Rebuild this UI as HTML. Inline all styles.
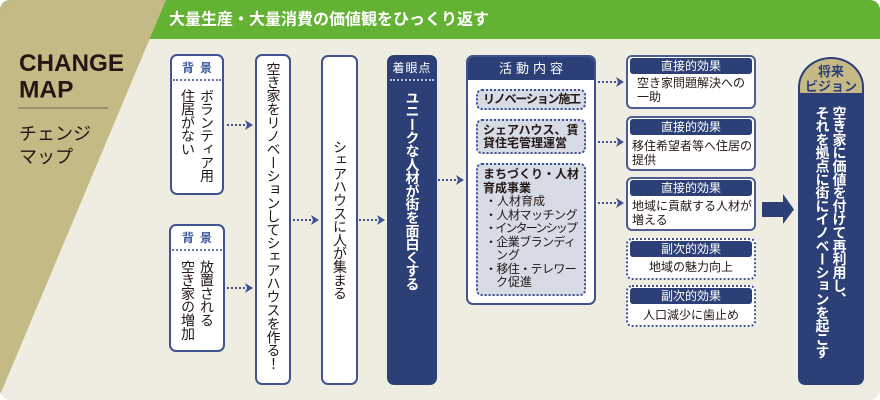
<!DOCTYPE html>
<html><head><meta charset="utf-8">
<style>
*{margin:0;padding:0;}
body{width:880px;height:400px;position:relative;overflow:hidden;background:#fff;font-family:"Liberation Sans","Noto Sans CJK JP",sans-serif;color:#231815;}
.a{position:absolute;box-sizing:border-box;}
.wb{background:#fff;border:2px solid #3E5390;border-radius:7px;}
.nv{background:#2C4077;border-radius:7px;}
.v{position:absolute;writing-mode:vertical-rl;white-space:nowrap;font-size:14px;letter-spacing:-0.7px;}
.hd{position:absolute;text-align:center;font-size:12px;font-weight:bold;color:#3B5A9A;letter-spacing:6px;line-height:16px;}
.dl{position:absolute;height:0;border-top:2px dotted #6677A8;}
.p{position:absolute;box-sizing:border-box;left:476px;width:110px;border:2px dotted #3E5390;background:#D6DBE6;border-radius:6px;font-size:12px;}
.e{position:absolute;box-sizing:border-box;left:626px;width:130px;background:#fff;border:2px solid #4B5D93;border-radius:6px;}
.ed{border:2px dotted #3E5390;}
.eh{position:absolute;left:630px;width:122px;height:16px;background:#2C4077;border-radius:3px;color:#fff;font-size:12px;text-align:center;line-height:16px;}
.et{position:absolute;font-size:12px;line-height:14px;white-space:nowrap;}
</style></head><body>
<svg class="a" style="left:0;top:0" width="880" height="400">
<defs><clipPath id="c"><rect width="880" height="400" rx="10"/></clipPath></defs>
<g clip-path="url(#c)">
<rect width="880" height="400" fill="#EFEDE2"/>
<rect x="0" y="0" width="880" height="39" fill="#64B234"/>
<polygon points="0,0 166,0 0,395" fill="#C4BA85"/>
</g>
<text x="169" y="20" dominant-baseline="central" font-size="16" font-weight="bold" fill="#fff" font-family="Liberation Sans, Noto Sans CJK JP, sans-serif">大量生産・大量消費の価値観をひっくり返す</text>
<text x="19" y="71" font-size="24.5" font-weight="bold" fill="#231815" font-family="Liberation Sans, sans-serif" textLength="105" lengthAdjust="spacingAndGlyphs">CHANGE</text>
<text x="19" y="97.5" font-size="24.5" font-weight="bold" fill="#231815" font-family="Liberation Sans, sans-serif">MAP</text>
<line x1="18" y1="108" x2="108" y2="108" stroke="#8B8565" stroke-width="1.5"/>
<text x="19" y="134" dominant-baseline="central" font-size="18" fill="#231815" font-family="Liberation Sans, Noto Sans CJK JP, sans-serif">チェンジ</text>
<text x="19" y="157" dominant-baseline="central" font-size="18" fill="#231815" font-family="Liberation Sans, Noto Sans CJK JP, sans-serif">マップ</text>
<g stroke="#3E5390" stroke-width="2" stroke-dasharray="2 2" fill="none">
<line x1="227" y1="125" x2="247" y2="125"/>
<line x1="227" y1="288" x2="247" y2="288"/>
<line x1="293" y1="220" x2="313" y2="220"/>
<line x1="359" y1="220" x2="379" y2="220"/>
<line x1="438" y1="180" x2="458" y2="180"/>
<line x1="598" y1="82" x2="618" y2="82"/>
<line x1="598" y1="142" x2="618" y2="142"/>
<line x1="598" y1="203" x2="618" y2="203"/>
</g>
<g fill="#3E5390">
<polygon points="245,120 253,125 245,130 247,125"/>
<polygon points="245,283 253,288 245,293 247,288"/>
<polygon points="311,215 319,220 311,225 313,220"/>
<polygon points="377,215 385,220 377,225 379,220"/>
<polygon points="456,175 464,180 456,185 458,180"/>
<polygon points="616,77 624,82 616,87 618,82"/>
<polygon points="616,137 624,142 616,147 618,142"/>
<polygon points="616,198 624,203 616,208 618,203"/>
</g>
<polygon points="762,202 783,202 783,194 794,209.5 783,224 783,217 762,217" fill="#2C4077"/>
</svg>

<!-- background box 1 -->
<div class="a wb" style="left:170px;top:54px;width:54px;height:141px;"></div>
<div class="hd" style="left:170px;top:60px;width:54px;padding-left:6px;box-sizing:border-box;">背景</div>
<div class="dl" style="left:173px;top:79px;width:48px;"></div>
<div class="v" style="left:178px;top:89px;width:38px;line-height:19px;">ボランティア用<br>住居がない</div>

<!-- background box 2 -->
<div class="a wb" style="left:169px;top:224px;width:56px;height:128px;"></div>
<div class="hd" style="left:169px;top:230px;width:56px;padding-left:6px;box-sizing:border-box;">背景</div>
<div class="dl" style="left:172px;top:249px;width:50px;"></div>
<div class="v" style="left:178px;top:260px;width:38px;line-height:19px;">放置される<br>空き家の増加</div>

<!-- column 3 -->
<div class="a wb" style="left:255px;top:54px;width:36px;height:331px;"></div>
<div class="v" style="left:263.5px;top:62px;width:19px;line-height:19px;letter-spacing:-0.6px;">空き家をリノベーションしてシェアハウスを作る！</div>

<!-- column 4 -->
<div class="a wb" style="left:321px;top:55px;width:37px;height:330px;"></div>
<div class="v" style="left:330px;top:140px;width:19px;line-height:19px;">シェアハウスに人が集まる</div>

<!-- column 5 -->
<div class="a nv" style="left:387px;top:55px;width:50px;height:330px;"></div>
<div class="a" style="left:387px;top:60px;width:50px;text-align:center;color:#fff;font-size:12px;line-height:16px;letter-spacing:1px;">着眼点</div>
<div class="dl" style="left:390px;top:79px;width:44px;border-top-color:#B9C0D8;"></div>
<div class="v" style="left:402.5px;top:91px;width:19px;line-height:19px;color:#fff;font-weight:bold;">ユニークな人材が街を面白くする</div>

<!-- activity box -->
<div class="a wb" style="left:466px;top:55px;width:130px;height:250px;overflow:hidden;">
  <div style="position:absolute;left:0;top:0;width:126px;height:23px;background:#2C4077;color:#fff;font-size:13px;line-height:23px;text-align:center;letter-spacing:4px;padding-left:4px;box-sizing:border-box;">活動内容</div>
</div>
<div class="p" style="top:89px;height:21px;padding-left:5px;font-weight:bold;line-height:17px;letter-spacing:-1.2px;white-space:nowrap;">リノベーション施工</div>
<div class="p" style="top:119px;height:35px;padding-left:5px;padding-top:2.5px;font-weight:bold;line-height:13px;white-space:nowrap;">シェアハウス、賃<br>貸住宅管理運営</div>
<div class="p" style="top:163px;height:133px;padding-left:5px;padding-top:3.25px;line-height:13.5px;white-space:nowrap;">
<div style="font-weight:bold;">まちづくり・人材<br>育成事業</div>
<div style="margin-left:2px;">・人材育成</div>
<div style="margin-left:2px;letter-spacing:-0.5px;">・人材マッチング</div>
<div style="margin-left:2px;letter-spacing:-1.8px;">・インターンシップ</div>
<div style="margin-left:2px;letter-spacing:-0.6px;">・企業ブランディ</div>
<div style="margin-left:13px;">ング</div>
<div style="margin-left:2px;letter-spacing:-0.6px;">・移住・テレワー</div>
<div style="margin-left:13px;">ク促進</div>
</div>

<!-- effect boxes -->
<div class="e" style="top:55px;height:54px;"></div>
<div class="eh" style="top:58px;">直接的効果</div>
<div class="et" style="left:637px;top:76px;">空き家問題解決への<br>一助</div>

<div class="e" style="top:116px;height:55px;"></div>
<div class="eh" style="top:119px;">直接的効果</div>
<div class="et" style="left:632px;top:139px;">移住希望者等へ住居の<br>提供</div>

<div class="e" style="top:177px;height:54px;"></div>
<div class="eh" style="top:180px;">直接的効果</div>
<div class="et" style="left:632px;top:199px;">地域に貢献する人材が<br>増える</div>

<div class="e ed" style="top:238px;height:42px;"></div>
<div class="eh" style="top:241px;">副次的効果</div>
<div class="et" style="left:626px;width:130px;text-align:center;top:260px;">地域の魅力向上</div>

<div class="e ed" style="top:285px;height:42px;"></div>
<div class="eh" style="top:288px;">副次的効果</div>
<div class="et" style="left:626px;width:130px;text-align:center;top:308px;">人口減少に歯止め</div>

<!-- vision -->
<div class="a" style="left:798px;top:57px;width:66px;height:328px;background:#2C4077;border-radius:33px 33px 7px 7px / 30px 30px 7px 7px;"></div>
<div class="a" style="left:800px;top:59px;width:62px;height:34px;background:#C6B986;border-radius:31px 31px 0 0 / 28px 28px 0 0;"></div>
<div class="a" style="left:798px;top:64px;width:66px;text-align:center;color:#2C4077;font-weight:bold;font-size:13px;line-height:15px;">将来<br>ビジョン</div>
<div class="v" style="left:813.5px;top:106px;width:34px;line-height:17px;color:#fff;font-weight:bold;">空き家に価値を付けて再利用し、<br>それを拠点に街にイノベーションを起こす</div>
</body></html>
